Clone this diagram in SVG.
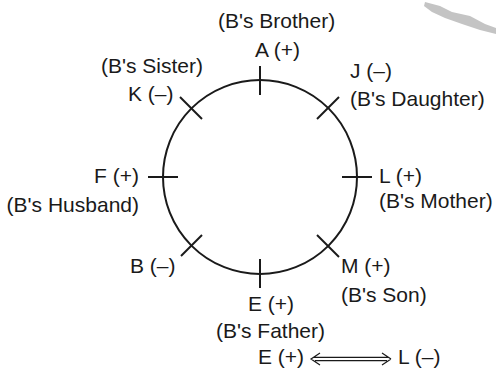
<svg xmlns="http://www.w3.org/2000/svg" width="496" height="371" viewBox="0 0 496 371">
<style>
text{font-family:"Liberation Sans","DejaVu Sans",sans-serif;font-size:21px;fill:#1a1a1a}
.e{text-anchor:end}
.ln{stroke:#1a1a1a;stroke-width:2;fill:none}
.ar{stroke:#1a1a1a;stroke-width:1.2;fill:none}
</style>
<rect width="496" height="371" fill="#fff"/>
<path d="M425,2 L440,6 L452,12 L470,16 L485,24 L496,28 L496,34 L480,30 L462,24 L445,18 L432,12 L424,6 Z" fill="#c4c4c4"/>
<g id="circle"><circle cx="260" cy="177" r="97" class="ln"/></g>
<g id="connectors">
<line x1="260" y1="66" x2="260" y2="95" class="ln"/>
<line x1="148" y1="177" x2="178" y2="177" class="ln"/>
<line x1="342" y1="177" x2="372" y2="177" class="ln"/>
<line x1="260" y1="259" x2="260" y2="288" class="ln"/>
<line x1="180" y1="97" x2="202" y2="119" class="ln"/>
<line x1="339" y1="97" x2="317" y2="119" class="ln"/>
<line x1="317" y1="235" x2="339" y2="257" class="ln"/>
<line x1="202" y1="235" x2="181" y2="256" class="ln"/>
<path class="ar" d="M320,353 L311,359 L320,365 M391,359 L382,353 M391,359 L382,365 M315,357.3 H387 M315,360.7 H387"/>
</g>
<g id="node-A"><text x="218" y="28">(B's Brother)</text><text x="255" y="57">A (+)</text></g>
<g id="node-K"><text x="101" y="73">(B's Sister)</text><text x="128" y="101">K (–)</text></g>
<g id="node-J"><text x="350" y="78">J (–)</text><text x="350" y="106">(B's Daughter)</text></g>
<g id="node-F"><text class="e" x="139" y="183">F (+)</text><text class="e" x="139" y="212">(B's Husband)</text></g>
<g id="node-L"><text x="379" y="183">L (+)</text><text x="379" y="208">(B's Mother)</text></g>
<g id="node-B"><text x="130" y="273">B (–)</text></g>
<g id="node-M"><text x="341" y="273">M (+)</text><text x="341" y="302">(B's Son)</text></g>
<g id="node-E"><text x="248" y="311">E (+)</text><text x="216" y="338">(B's Father)</text></g>
<g id="relation"><text x="258" y="364">E (+)</text><text x="398" y="364">L (–)</text></g>
</svg>
